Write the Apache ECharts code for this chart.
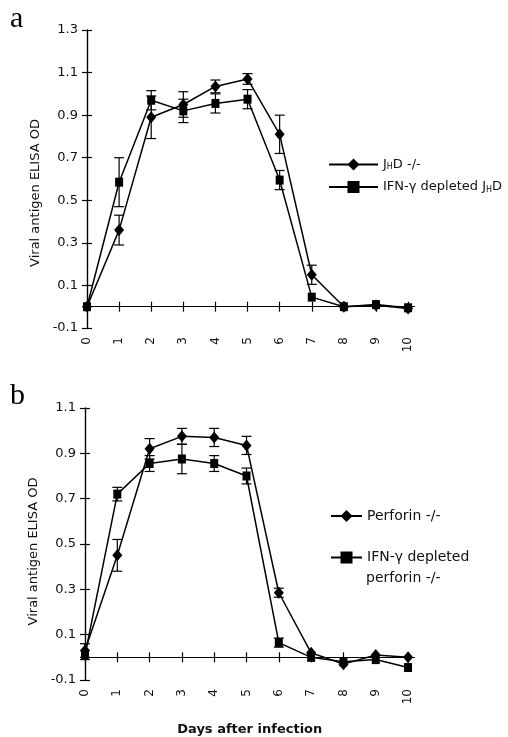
<!DOCTYPE html>
<html>
<head>
<meta charset="utf-8">
<script src="https://cdn.jsdelivr.net/npm/echarts@6/dist/echarts.min.js"></script>
<style>html,body{margin:0;padding:0;background:#fff}#c{width:508px;height:737px}</style>
</head>
<body>
<div id="c"></div>
<script>
// ---- data ----
var days = [0, 1, 2, 3, 4, 5, 6, 7, 8, 9, 10];
var xTicks = [0, 1, 2, 3, 4, 5, 6, 7, 8, 9, 10];
var yTicksA = [-0.1, 0.1, 0.3, 0.5, 0.7, 0.9, 1.1, 1.3];
var yTicksB = [-0.1, 0.1, 0.3, 0.5, 0.7, 0.9, 1.1];

// Panel a
var jhdMean = [0.0, 0.36, 0.89, 0.95, 1.035, 1.07, 0.81, 0.15, 0.0, 0.007, -0.008];
var jhdErr  = [0, 0.07, 0.10, 0.06, 0.03, 0.025, 0.09, 0.045, 0, 0, 0];
var ifnAMean = [0.0, 0.585, 0.97, 0.92, 0.955, 0.975, 0.595, 0.045, 0.0, 0.01, -0.005];
var ifnAErr  = [0, 0.115, 0.045, 0.055, 0.045, 0.045, 0.045, 0, 0, 0, 0];

// Panel b
var perfMean = [0.03, 0.45, 0.92, 0.975, 0.97, 0.935, 0.285, 0.02, -0.03, 0.01, 0.0];
var perfErr  = [0.03, 0.07, 0.045, 0.035, 0.04, 0.04, 0.02, 0, 0, 0, 0];
var ifnBMean = [0.01, 0.72, 0.855, 0.875, 0.855, 0.80, 0.065, 0.0, -0.02, -0.01, -0.045];
var ifnBErr  = [0.02, 0.03, 0.035, 0.065, 0.035, 0.035, 0.02, 0, 0, 0, 0];

var nameJHD = 'JHD -/-';
var nameIFNA = 'IFN-γ depleted JHD';
var namePerf = 'Perforin -/-';
var nameIFNB = 'IFN-γ depleted perforin -/-';

// ---- helpers ----
function pairs(mean) { return days.map(function (d, i) { return [d, mean[i]]; }); }
function errs(mean, err) {
  var out = [];
  days.forEach(function (d, i) { if (err[i] > 0) out.push([d, mean[i] - err[i], mean[i] + err[i]]); });
  return out;
}
function renderErr(params, api) {
  var x = api.value(0), lo = api.value(1), hi = api.value(2);
  var a = api.coord([x, lo]), b = api.coord([x, hi]);
  var w = 5;
  var st = { stroke: '#000', lineWidth: 1.2 };
  return { type: 'group', children: [
    { type: 'line', shape: { x1: a[0], y1: a[1], x2: b[0], y2: b[1] }, style: st },
    { type: 'line', shape: { x1: a[0] - w, y1: a[1], x2: a[0] + w, y2: a[1] }, style: st },
    { type: 'line', shape: { x1: b[0] - w, y1: b[1], x2: b[0] + w, y2: b[1] }, style: st }
  ]};
}
var FONT = 'DejaVu Sans';
var lineW = 1.5;
var tickStyle = { color: '#000', width: 1.2 };
function blank() { return ''; }

function xAxes(grid, withName) {
  var main = {
    type: 'value', gridIndex: grid, min: 0, max: 10.2, position: 'bottom',
    axisLine: { onZero: true, onZeroAxisIndex: grid * 2, lineStyle: tickStyle },
    axisTick: { show: true, inside: false, length: 5, customValues: xTicks, lineStyle: tickStyle },
    axisLabel: { show: true, rotate: 90, margin: 9, customValues: xTicks, color: '#111', fontFamily: FONT, fontSize: 12 },
    splitLine: { show: false }
  };
  if (withName) {
    main.name = 'Days after infection';
    main.nameLocation = 'middle';
    main.nameGap = 43;
    main.nameTextStyle = { fontFamily: FONT, fontSize: 13, fontWeight: 'bold', color: '#111' };
  }
  var second = {
    type: 'value', gridIndex: grid, min: 0, max: 10.2, position: 'bottom',
    axisLine: { show: true, onZero: true, onZeroAxisIndex: grid * 2, lineStyle: tickStyle },
    axisTick: { show: true, inside: true, length: 5, customValues: xTicks, lineStyle: tickStyle },
    axisLabel: { show: true, customValues: xTicks, formatter: blank }, splitLine: { show: false }
  };
  return [main, second];
}
function yAxes(grid, max, ticks, gap, pad) {
  var main = {
    type: 'value', gridIndex: grid, min: -0.1, max: max, position: 'left',
    name: 'Viral antigen ELISA OD', nameLocation: 'middle', nameGap: gap,
    nameTextStyle: { fontFamily: FONT, fontSize: 13, color: '#111', padding: pad },
    axisLine: { show: true, onZero: false, lineStyle: tickStyle },
    axisTick: { show: true, inside: false, length: 5, customValues: ticks, lineStyle: tickStyle },
    axisLabel: { show: true, margin: 9, customValues: ticks, color: '#111', fontFamily: FONT, fontSize: 13,
      formatter: function (v) { return (Math.round(v * 10) / 10).toFixed(1); } },
    splitLine: { show: false }
  };
  var second = {
    type: 'value', gridIndex: grid, min: -0.1, max: max, position: 'left',
    axisLine: { show: true, onZero: false, lineStyle: tickStyle },
    axisTick: { show: true, inside: true, length: 5, customValues: ticks, lineStyle: tickStyle },
    axisLabel: { show: true, customValues: ticks, formatter: blank }, splitLine: { show: false }
  };
  return [main, second];
}
function lineSeries(name, mean, sym, size, xi, yi) {
  return {
    name: name, type: 'line', xAxisIndex: xi, yAxisIndex: yi, data: pairs(mean),
    symbol: sym, symbolSize: size, showSymbol: true,
    itemStyle: { color: '#000' }, lineStyle: { color: '#000', width: lineW },
    z: 3, animation: false
  };
}
function errSeries(mean, err, xi, yi) {
  return { type: 'custom', xAxisIndex: xi, yAxisIndex: yi, data: errs(mean, err),
    renderItem: renderErr, silent: true, z: 2, animation: false };
}
var rich = { s: { fontSize: 8, fontFamily: FONT, color: '#111', verticalAlign: 'bottom', padding: [5, 0, 0, 0] } };
function legend(name, left, top, w, fmt, fs) {
  return {
    data: [name], left: left, top: top, orient: 'vertical', padding: 0,
    itemWidth: w, itemHeight: 15, itemGap: 0, selectedMode: false,
    formatter: fmt,
    textStyle: { fontFamily: FONT, fontSize: fs, color: '#111', rich: rich }
  };
}

var chart = echarts.init(document.getElementById('c'), null, { renderer: 'canvas' });
chart.setOption({
  animation: false,
  backgroundColor: '#fff',
  grid: [
    { left: 87, top: 30, width: 327.5, height: 298 },
    { left: 85, top: 408, width: 329.5, height: 297 }
  ],
  xAxis: xAxes(0, false).concat(xAxes(1, true)),
  yAxis: yAxes(0, 1.3, yTicksA, 42, [0, 28, 0, 0]).concat(yAxes(1, 1.1, yTicksB, 38, [0, 15, 0, 0])),
  legend: [
    legend(nameJHD, 328, 158, 49, function () { return 'J{s|H}D -/-'; }, 13),
    legend(nameIFNA, 328, 180.5, 49, function () { return 'IFN-γ depleted J{s|H}D'; }, 13),
    legend(namePerf, 330, 509, 31, function () { return 'Perforin -/-'; }, 14),
    legend(nameIFNB, 330, 550.5, 31, function () { return 'IFN-γ depleted'; }, 14)
  ],
  graphic: [
    { type: 'text', left: 10, top: 4, style: { text: 'a', font: '30px "Liberation Serif"', fill: '#000' } },
    { type: 'text', left: 10, top: 381, style: { text: 'b', font: '30px "Liberation Serif"', fill: '#000' } },
    { type: 'text', left: 366, top: 571, style: { text: 'perforin -/-', font: '14px "DejaVu Sans"', fill: '#111' } }
  ],
  series: [
    errSeries(jhdMean, jhdErr, 0, 0),
    errSeries(ifnAMean, ifnAErr, 0, 0),
    lineSeries(nameJHD, jhdMean, 'diamond', [10, 12], 0, 0),
    lineSeries(nameIFNA, ifnAMean, 'rect', [8, 9], 0, 0),
    errSeries(perfMean, perfErr, 2, 2),
    errSeries(ifnBMean, ifnBErr, 2, 2),
    lineSeries(namePerf, perfMean, 'diamond', [10, 12], 2, 2),
    lineSeries(nameIFNB, ifnBMean, 'rect', [8, 9], 2, 2)
  ]
});
</script>
</body>
</html>
